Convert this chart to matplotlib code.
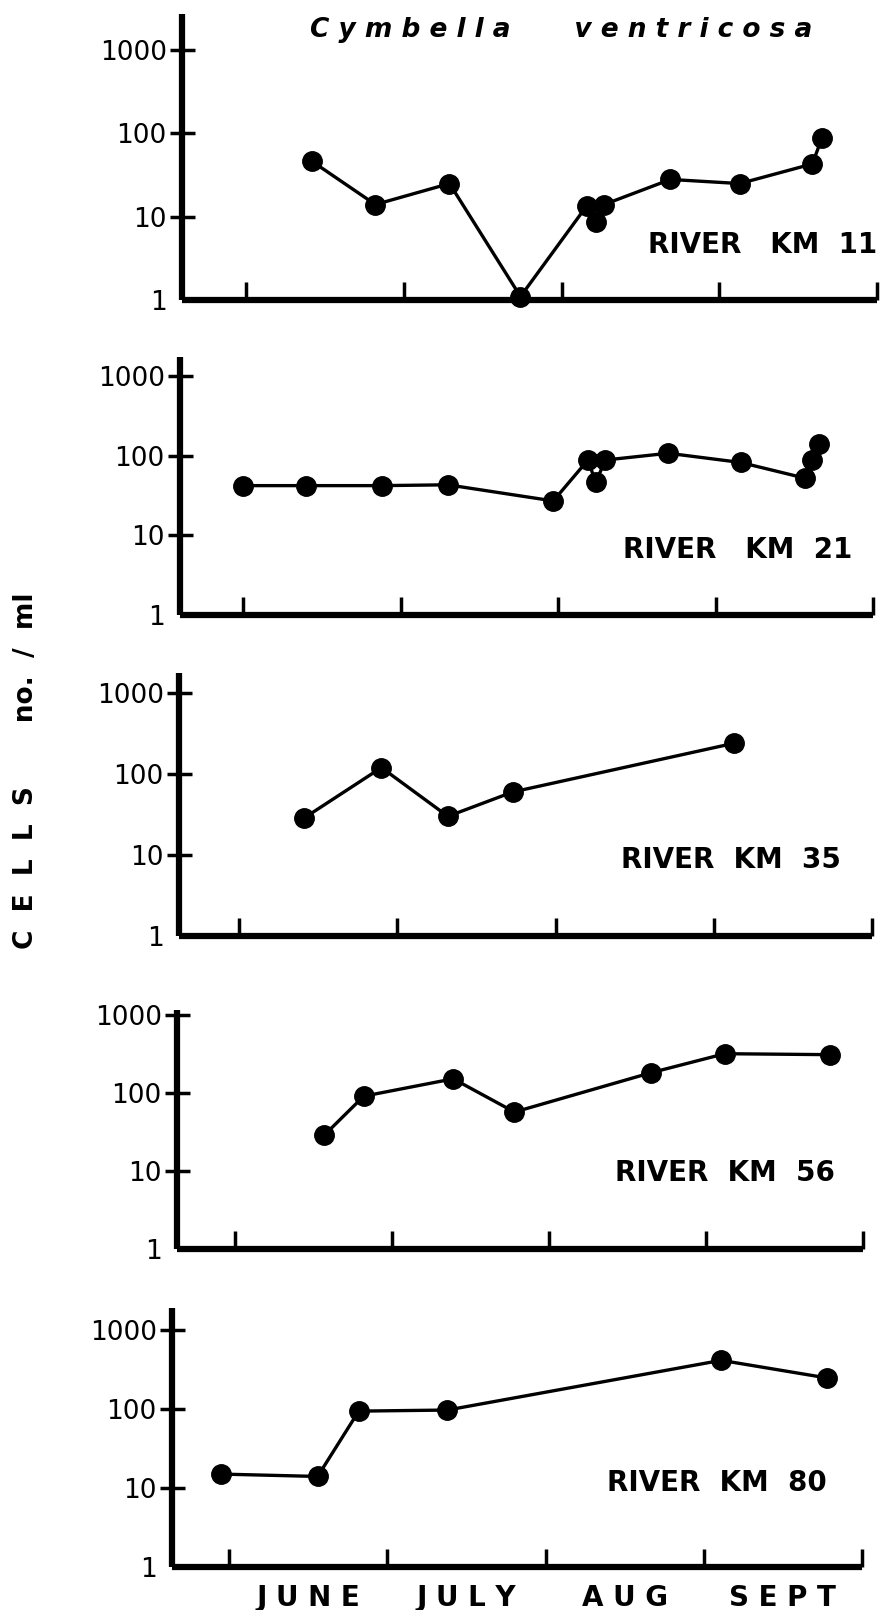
import matplotlib.pyplot as plt

# x = months after 1 June (tick marks fall on the first of each month)
months = ['J U N E', 'J U L Y', 'A U G', 'S E P T']
stations = ['RIVER   KM  11', 'RIVER   KM  21', 'RIVER  KM  35',
            'RIVER  KM  56', 'RIVER  KM  80']

km11_x = [0.42, 0.82, 1.29, 1.74, 2.16, 2.22, 2.27, 2.69, 3.13, 3.59, 3.65]
km11_y = [46, 14, 25, 1.1, 13.5, 8.7, 14, 28, 25, 43, 87]

km21_x = [0.0, 0.40, 0.88, 1.30, 1.97, 2.19, 2.24, 2.30, 2.70, 3.16, 3.57, 3.61, 3.66]
km21_y = [42, 42, 42, 43, 27, 88, 46, 88, 107, 82, 52, 88, 138]

km35_x = [0.41, 0.90, 1.32, 1.73, 3.13]
km35_y = [28.5, 120, 30, 60, 240]

km56_x = [0.57, 0.82, 1.39, 1.78, 2.65, 3.12, 3.79]
km56_y = [29, 91, 152, 57, 182, 319, 310]

km80_x = [-0.05, 0.56, 0.82, 1.38, 3.11, 3.78]
km80_y = [15, 14, 94, 97, 413, 247]

series = [(km11_x, km11_y), (km21_x, km21_y), (km35_x, km35_y),
          (km56_x, km56_y), (km80_x, km80_y)]

W, H = 882, 1610
# pixel layout of each panel: left, right, y of "1", y of spine top, px per decade, first tick x
layout = [
    (182, 877, 300, 14, 83.3, 246),
    (180, 873, 615, 357, 79.7, 243),
    (179, 872, 936, 673, 81.0, 239),
    (177, 863, 1249, 1010, 78.0, 235),
    (172, 862, 1567, 1308, 79.0, 229),
]
label_pos = [(877, 245), (852, 550), (841, 860), (835, 1173), (827, 1483)]

plt.rcParams['font.family'] = ['DejaVu Sans']
fig = plt.figure(figsize=(W / 100, H / 100), dpi=100)

for i, ((xs, ys), (l, r, y1, yt, dec, t0)) in enumerate(zip(series, layout)):
    ax = fig.add_axes([l / W, 1 - y1 / H, (r - l) / W, (y1 - yt) / H])
    ax.plot(xs, ys, color='black', lw=2.4, marker='o', ms=14, clip_on=False)
    ax.set_yscale('log')
    ax.set_ylim(1, 10 ** ((y1 - yt) / dec))
    spacing = (r - t0) / 4
    ax.set_xlim((l - t0) / spacing, 4)
    for s in ['top', 'right']:
        ax.spines[s].set_visible(False)
    for s in ['left', 'bottom']:
        ax.spines[s].set_linewidth(4.5)
        ax.spines[s].set_capstyle('butt')
    ax.set_yticks([1, 10, 100, 1000], labels=['1', '10', '100', '1000'])
    ax.minorticks_off()
    ax.tick_params(axis='y', direction='inout', length=18, width=2.5,
                   labelsize=19, pad=2)
    ax.yaxis.get_major_ticks()[0].tick1line.set_visible(False)
    ax.set_xticks([0, 1, 2, 3, 4], labels=['', '', '', '', ''])
    ax.tick_params(axis='x', which='major', direction='in', length=13, width=2.5)
    if i == 4:
        ax.set_xticks([0.5, 1.5, 2.5, 3.5], labels=months, minor=True)
        ax.tick_params(axis='x', which='minor', length=0, pad=12, labelsize=20)
        for t in ax.get_xticklabels(minor=True):
            t.set_fontweight('bold')
    lx, ly = label_pos[i]
    fig.text(lx / W, 1 - ly / H, stations[i], ha='right', va='center',
             fontsize=20, fontweight='bold')

fig.text(561 / W, 1 - 30 / H, 'C y m b e l l a       v e n t r i c o s a',
         ha='center', va='center', fontsize=19, style='italic', fontweight='bold')
fig.text(26 / W, 1 - 771 / H, 'C  E  L  L  S       no.  /  ml', rotation=90,
         ha='center', va='center', fontsize=19, fontweight='bold')

fig.savefig('out.png', dpi=100)
